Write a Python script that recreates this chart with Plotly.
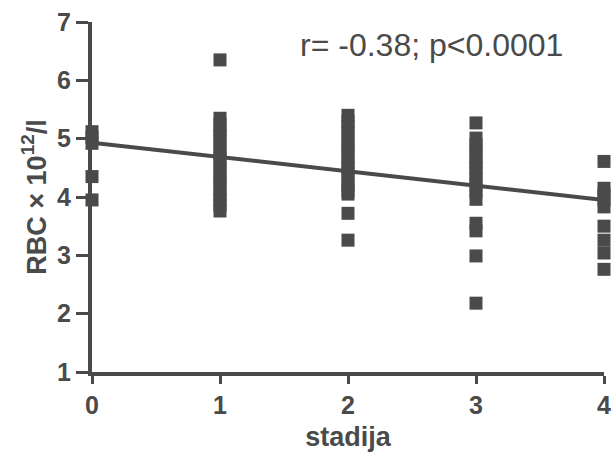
import plotly.graph_objects as go

stages = [0, 1, 2, 3, 4]
rbc_stage0 = [5.12, 5.02, 4.92, 4.35, 3.95]
rbc_stage1 = [6.35, 5.35, 5.25, 5.15, 5.05, 4.95, 4.85, 4.75, 4.65, 4.55, 4.45,
              4.35, 4.25, 4.15, 4.05, 3.95, 3.85, 3.76]
rbc_stage2 = [5.40, 5.30, 5.20, 5.10, 5.00, 4.90, 4.80, 4.70, 4.60, 4.50, 4.40,
              4.30, 4.20, 4.10, 4.05, 3.72, 3.26]
rbc_stage3 = [5.27, 5.01, 4.90, 4.80, 4.70, 4.60, 4.50, 4.40, 4.30, 4.20, 4.10,
              3.96, 3.55, 3.42, 2.99, 2.18]
rbc_stage4 = [4.61, 4.15, 4.05, 3.95, 3.83, 3.50, 3.26, 3.04, 2.76]
fit_x = [0, 4]
fit_y = [4.93, 3.95]
y_ticks = [1, 2, 3, 4, 5, 6, 7]
annotation_text = "r= -0.38; p<0.0001"

groups = [rbc_stage0, rbc_stage1, rbc_stage2, rbc_stage3, rbc_stage4]
xs, ys = [], []
for s, vals in zip(stages, groups):
    xs += [s] * len(vals)
    ys += vals

INK = "#4a4a4a"
FAM = "Liberation Sans, Arial, sans-serif"
fig = go.Figure()
fig.add_trace(go.Scatter(x=fit_x, y=fit_y, mode="lines",
                         line=dict(color=INK, width=4), cliponaxis=False,
                         showlegend=False))
fig.add_trace(go.Scatter(x=xs, y=ys, mode="markers",
                         marker=dict(symbol="square", size=13, color=INK,
                                     line=dict(width=0)),
                         cliponaxis=False, showlegend=False))

axis_font = dict(family=FAM, size=25, color=INK)
fig.update_layout(
    width=612, height=452,
    margin=dict(l=92, r=8, t=22, b=80),
    plot_bgcolor="white", paper_bgcolor="white",
    font=dict(family=FAM, color=INK),
    xaxis=dict(range=[0, 4], tickvals=stages, ticktext=[f"<b>{s}</b>" for s in stages],
               showgrid=False, zeroline=False, showline=True, linecolor=INK,
               linewidth=4, ticks="outside", ticklen=8, tickwidth=3, tickcolor=INK,
               tickfont=axis_font, automargin=False,
               title=dict(text="<b>stadija</b>", font=dict(family=FAM, size=27, color=INK), standoff=12)),
    yaxis=dict(range=[1, 7], tickvals=y_ticks, ticktext=[f"<b>{t}</b>" for t in y_ticks],
               showgrid=False, zeroline=False, showline=True, linecolor=INK,
               linewidth=4, ticks="outside", ticklen=12, tickwidth=3, tickcolor=INK,
               tickfont=axis_font, automargin=False,
               title=dict(text="<b>RBC × 10<sup>12</sup>/l</b>", font=dict(family=FAM, size=27, color=INK), standoff=4)),
    annotations=[dict(text=annotation_text, x=0.402, y=0.934, xref="paper", yref="paper",
                      xanchor="left", yanchor="middle", showarrow=False,
                      font=dict(family=FAM, size=32, color=INK))],
)
fig.write_html("out.html")
